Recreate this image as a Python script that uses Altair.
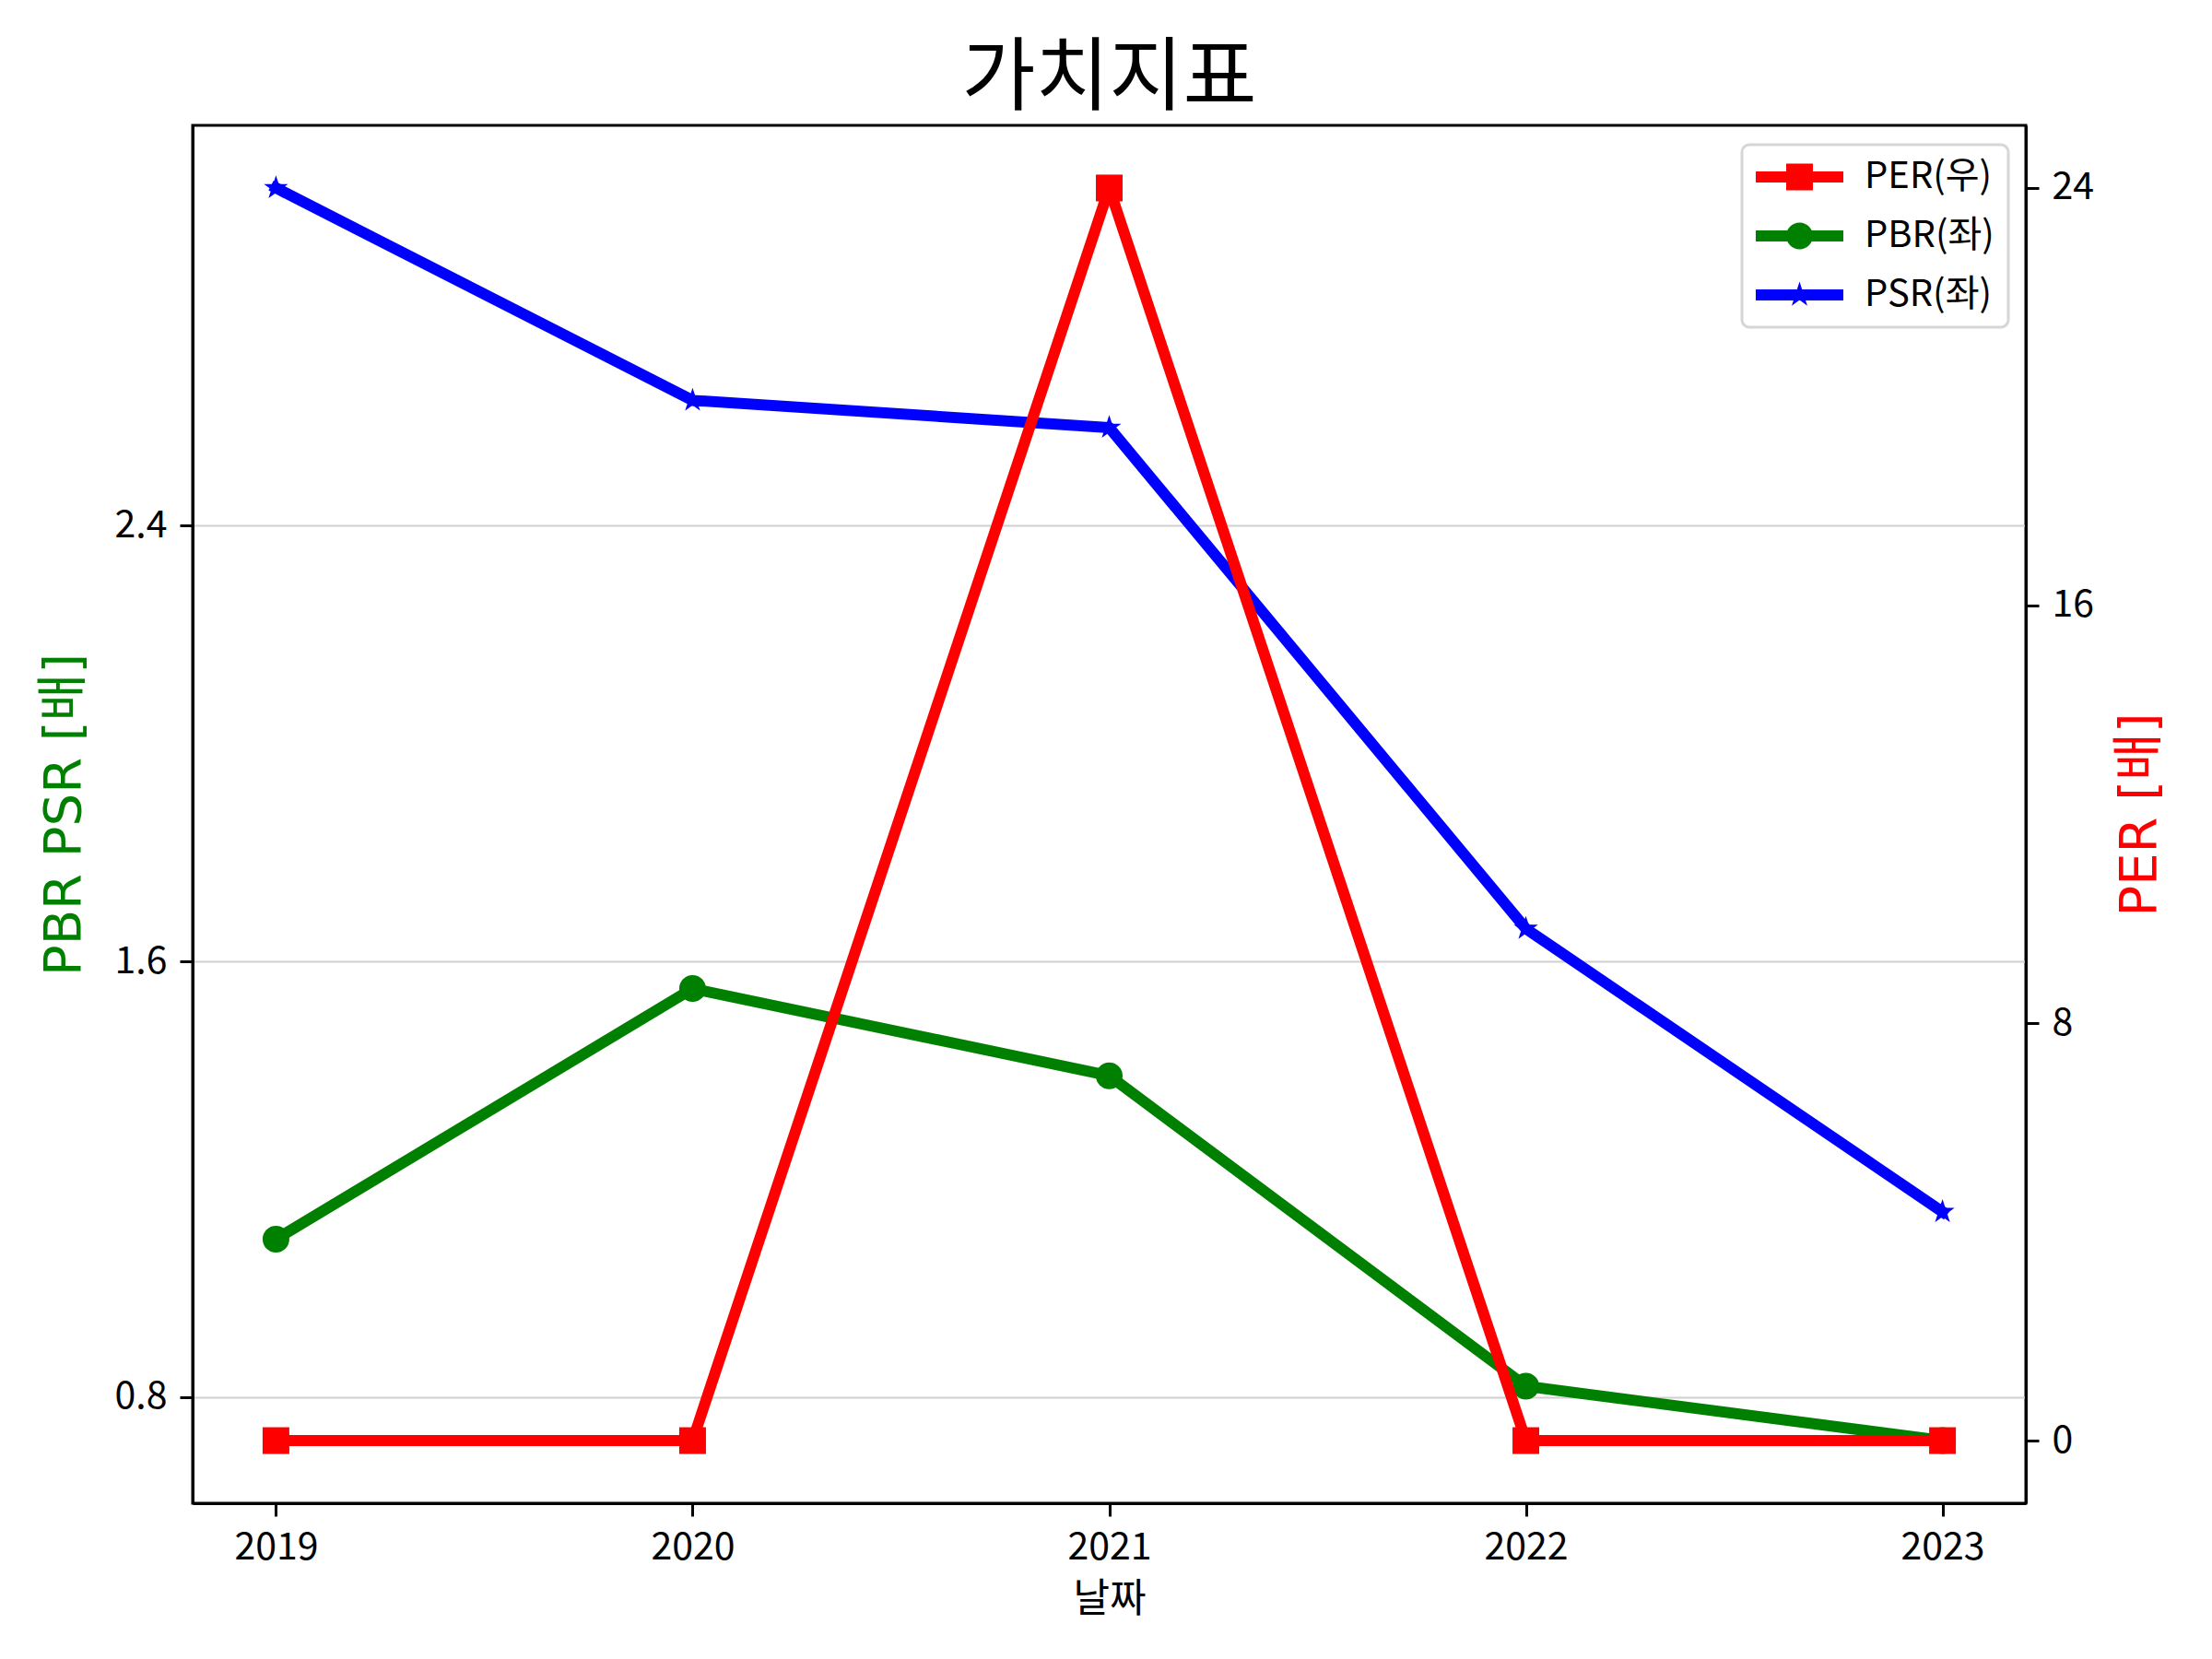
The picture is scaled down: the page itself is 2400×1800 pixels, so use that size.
import altair as alt
import pandas as pd

# ---- data ----
years = [2019, 2020, 2021, 2022, 2023]
per = [0.0, 0.0, 24.0, 0.0, 0.0]          # right axis
pbr = [1.09, 1.55, 1.39, 0.82, 0.72]      # left axis
psr = [3.02, 2.63, 2.58, 1.66, 1.14]      # left axis
series = ["PER(우)", "PBR(좌)", "PSR(좌)"]
colors = ["red", "green", "blue"]
left_ticks = [0.8, 1.6, 2.4]
right_ticks = [0, 8, 16, 24]

long = pd.DataFrame({
    "year": years * 3,
    "series": [s for s in series for _ in years],
    "value": per + pbr + psr,
})

KFONT = "Noto Sans CJK KR"
TFONT = "DejaVu Sans, Noto Sans CJK KR"

# legend symbols: line segment + marker (custom paths, unit = sqrt(size)/2 px)
STAR = ("M0,-1 L0.2245,-0.309 L0.9511,-0.309 L0.3633,0.118 L0.5878,0.809 "
        "L0,0.382 L-0.5878,0.809 L-0.3633,0.118 L-0.9511,-0.309 L-0.2245,-0.309 Z")
seg = "M-1,-0.3 L3.75,-0.3 L3.75,0.3 L-1,0.3 Z "
leg_sq = seg + "M0.65,-0.725 L2.1,-0.725 L2.1,0.725 L0.65,0.725 Z"
leg_ci = seg + "M0.65,0 A0.725,0.725 0 1,1 2.1,0 A0.725,0.725 0 1,1 0.65,0 Z"
sx, sr = 1.375, 0.72
pts = [(0, -1), (0.2245, -0.309), (0.9511, -0.309), (0.3633, 0.118), (0.5878, 0.809),
       (0, 0.382), (-0.5878, 0.809), (-0.3633, 0.118), (-0.9511, -0.309), (-0.2245, -0.309)]
leg_st = seg + "M" + " L".join(f"{sx + sr * a:.4f},{sr * b:.4f}" for a, b in pts) + " Z"

x_enc = alt.X(
    "year:Q",
    scale=alt.Scale(domain=[2018.8, 2023.2], nice=False, zero=False),
    axis=alt.Axis(values=years, format="d", title="날짜", grid=False,
                  titleFont=KFONT, titleFontSize=43, titlePadding=15),
)

left_axis = alt.Axis(values=left_ticks, format=".1f", title="PBR PSR [배]",
                     titleColor="green", grid=True, gridColor="#d0d0d0", gridWidth=2,
                     orient="left", titlePadding=26)
left_scale = alt.Scale(domain=[0.605, 3.135], nice=False, zero=False)
y_left = alt.Y("value:Q", scale=left_scale, axis=left_axis)

right_axis = alt.Axis(values=right_ticks, format="d", title="PER [배]", titleColor="red",
                      grid=False, orient="right", titleAngle=270, titleBaseline="top",
                      titlePadding=23)
y_right = alt.Y("value:Q", scale=alt.Scale(domain=[-1.2, 25.2], nice=False, zero=False),
                axis=right_axis)

base = alt.Chart(long)


def line_layer(name, color, y):
    return base.transform_filter(alt.datum.series == name).mark_line(
        color=color, strokeWidth=12, strokeCap="square", strokeJoin="round"
    ).encode(x=x_enc, y=y)


def point_layer(name, color, shape, size, y):
    return base.transform_filter(alt.datum.series == name).mark_point(
        filled=True, color=color, shape=shape, size=size, opacity=1
    ).encode(x=x_enc, y=y)


legend = alt.Legend(
    title=None, orient="none", legendX=1681, legendY=21,
    symbolSize=1600, symbolOpacity=1, symbolStrokeWidth=0,
    labelFont=KFONT, labelFontSize=40, labelOffset=78, labelColor="black", labelLimit=500,
    fillColor="white", strokeColor="#d6d6d6", cornerRadius=8,
    padding=15, rowPadding=24,
)

# invisible layer that only feeds the legend
legend_layer = base.mark_point(filled=True, opacity=0).encode(
    color=alt.Color("series:N", scale=alt.Scale(domain=series, range=colors), legend=legend),
    shape=alt.Shape("series:N", scale=alt.Scale(domain=series, range=[leg_sq, leg_ci, leg_st]),
                    legend=legend),
)

left = alt.layer(
    line_layer("PBR(좌)", "green", y_left),
    point_layer("PBR(좌)", "green", "circle", 841, y_left),
    line_layer("PSR(좌)", "blue", y_left),
    point_layer("PSR(좌)", "blue", STAR, 760, y_left),
)

right = alt.layer(
    line_layer("PER(우)", "red", y_right),
    point_layer("PER(우)", "red", "square", 841, y_right),
)

chart = alt.layer(left, right, legend_layer).resolve_scale(y="independent").properties(
    width=1989, height=1495,
    padding={"left": 201, "top": 128, "right": 190, "bottom": 157},
    autosize=alt.AutoSizeParams(type="none"),
    background="white",
    title=alt.TitleParams("가치지표", font=KFONT, fontSize=87, fontWeight="normal",
                          color="black", anchor="middle", offset=5, frame="group"),
).configure_view(stroke="black", strokeWidth=3).configure_axis(
    domainColor="black", domainWidth=3, tickColor="black", tickWidth=3, tickSize=14,
    labelFont=KFONT, labelFontSize=41, labelColor="black", labelPadding=14,
    titleFont=TFONT, titleFontSize=56, titleFontWeight="normal",
).configure_legend(strokeWidth=3)

chart.save("out.html", embed_options={"renderer": "svg", "actions": False})
